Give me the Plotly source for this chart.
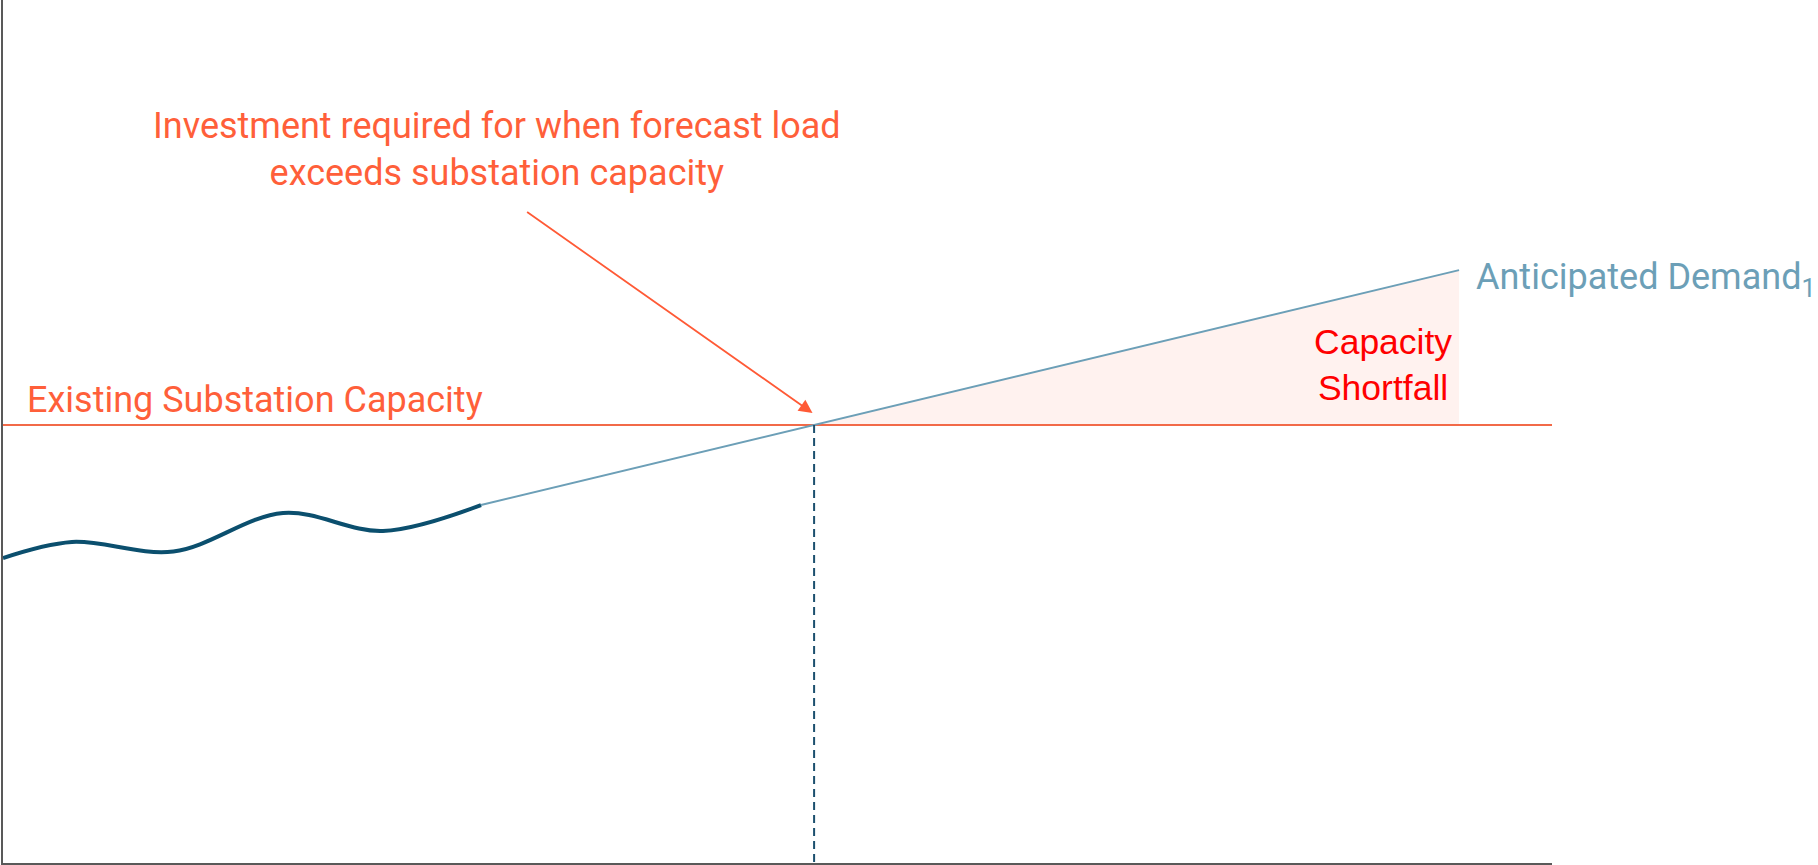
import plotly.graph_objects as go

# Time axis (arbitrary planning units) and load (percent of chart scale)
t_hist = [0.0, 4.45, 11.0, 18.08, 24.53, 30.86]
load_hist = [35.34, 37.2, 36.1, 40.56, 38.47, 41.48]

t_forecast = [30.86, 94.0]
load_forecast = [41.48, 68.7]

t_capacity = [0.0, 100.0]
capacity_level = 50.75

# Point where forecast demand crosses the existing capacity
slope = (load_forecast[1] - load_forecast[0]) / (t_forecast[1] - t_forecast[0])
t_cross = t_forecast[0] + (capacity_level - load_forecast[0]) / slope

ORANGE = "#FF5F3A"
RED_LINE = "#F26A48"
BLUE_LIGHT = "#6C9FB7"
BLUE_DARK = "#0B4F6E"
FONT = "Roboto"

fig = go.Figure()

# Shortfall region between the forecast line and capacity
fig.add_trace(go.Scatter(
    x=[t_cross, t_forecast[1], t_forecast[1], t_cross],
    y=[capacity_level, load_forecast[1], capacity_level, capacity_level],
    fill="toself", fillcolor="#FFF2EF", line=dict(width=0),
    mode="lines", hoverinfo="skip",
))

# Existing substation capacity
fig.add_trace(go.Scatter(
    x=t_capacity, y=[capacity_level, capacity_level],
    mode="lines", line=dict(color=RED_LINE, width=2),
))

# Anticipated demand
fig.add_trace(go.Scatter(
    x=t_forecast, y=load_forecast,
    mode="lines", line=dict(color=BLUE_LIGHT, width=2),
))

# Historical load
fig.add_trace(go.Scatter(
    x=t_hist, y=load_hist,
    mode="lines", line=dict(color=BLUE_DARK, width=4, shape="spline", smoothing=1.0),
))

# Vertical marker at the crossing point
fig.add_trace(go.Scatter(
    x=[t_cross, t_cross], y=[capacity_level, 0],
    mode="lines", line=dict(color="#1B4F6E", width=2, dash="8px,5px"),
))

annotations = [
    dict(x=31.9, y=82.7, xref="x", yref="y", showarrow=False,
         text="Investment required for when forecast load<br>exceeds substation capacity",
         font=dict(family=FONT, size=36, color=ORANGE), align="center",
         xanchor="center", yanchor="middle"),
    dict(x=1.45, y=53.6, xref="x", yref="y", showarrow=False,
         text="Existing Substation Capacity",
         font=dict(family=FONT, size=36, color=ORANGE),
         xanchor="left", yanchor="middle"),
    dict(x=94.95, y=67.6, xref="x", yref="y", showarrow=False,
         text="Anticipated Demand<sub>1</sub>",
         font=dict(family=FONT, size=36, color=BLUE_LIGHT),
         xanchor="left", yanchor="middle"),
    dict(x=89.1, y=57.7, xref="x", yref="y", showarrow=False,
         text="Capacity<br>Shortfall",
         font=dict(family="Liberation Sans", size=35.5, color="#FF0000"), align="center",
         xanchor="center", yanchor="middle"),
    dict(x=52.26, y=52.14, ax=33.74, ay=75.55, xref="x", yref="y",
         axref="x", ayref="y", text="", showarrow=True,
         arrowhead=2, arrowsize=1.5, arrowwidth=1.8, arrowcolor="#FF5A36", standoff=0),
]

fig.update_layout(
    width=1818, height=865,
    margin=dict(l=3, r=266, t=0, b=2),
    plot_bgcolor="white", paper_bgcolor="white",
    showlegend=False,
    annotations=annotations,
    xaxis=dict(range=[0, 100], showline=True, linecolor="#595959", linewidth=2,
               showgrid=False, zeroline=False, showticklabels=False, ticks=""),
    yaxis=dict(range=[0, 100], showline=True, linecolor="#595959", linewidth=2,
               showgrid=False, zeroline=False, showticklabels=False, ticks=""),
)

fig.write_html("out.html")
